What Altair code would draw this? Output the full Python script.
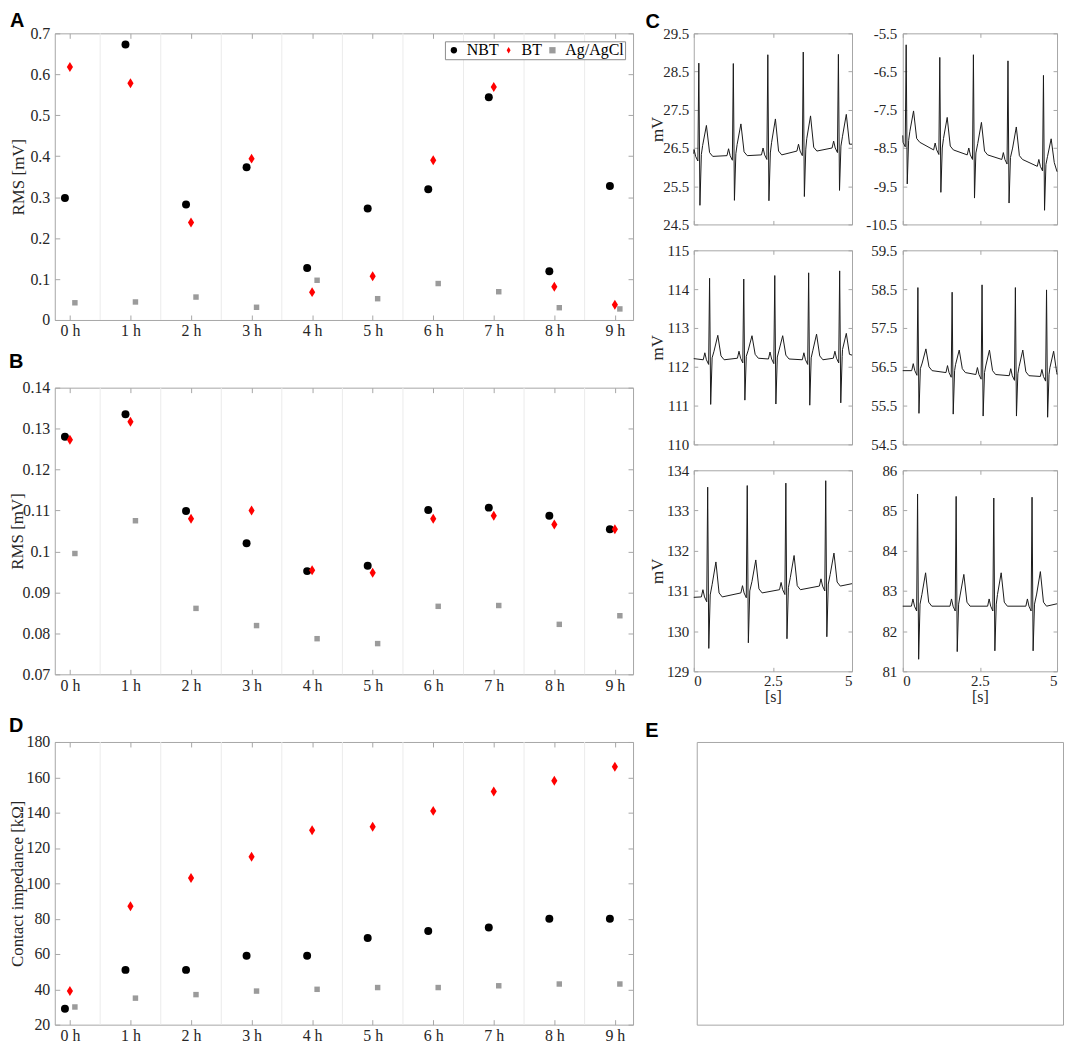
import altair as alt
import pandas as pd

# ---------------- data ----------------
hours = ["0 h", "1 h", "2 h", "3 h", "4 h", "5 h", "6 h", "7 h", "8 h", "9 h"]
series = ["NBT", "BT", "Ag/AgCl"]
grid_pos = [0.5, 1.5, 2.5, 3.5, 4.5, 5.5, 6.5, 7.5, 8.5]

# Panel A: RMS [mV]
a_nbt = [0.298, 0.673, 0.282, 0.373, 0.127, 0.272, 0.319, 0.544, 0.119, 0.327]
a_bt = [0.618, 0.578, 0.238, 0.394, 0.068, 0.107, 0.390, 0.569, 0.081, 0.037]
a_ag = [0.042, 0.044, 0.056, 0.031, 0.097, 0.052, 0.089, 0.069, 0.030, 0.027]
a_yticks = [0, 0.1, 0.2, 0.3, 0.4, 0.5, 0.6, 0.7]

# Panel B: RMS [mV]
b_nbt = [0.1280, 0.1335, 0.1099, 0.1020, 0.0952, 0.0965, 0.1101, 0.1107, 0.1087, 0.1054]
b_bt = [0.1273, 0.1317, 0.1080, 0.1100, 0.0954, 0.0948, 0.1080, 0.1087, 0.1066, 0.1054]
b_ag = [0.0995, 0.1075, 0.0861, 0.0819, 0.0787, 0.0775, 0.0866, 0.0868, 0.0822, 0.0843]
b_yticks = [0.07, 0.08, 0.09, 0.1, 0.11, 0.12, 0.13, 0.14]

# Panel D: contact impedance [kOhm]
d_nbt = [29, 51, 51, 59, 59, 69, 73, 75, 80, 80]
d_bt = [39, 87, 103, 115, 130, 132, 141, 152, 158, 166]
d_ag = [30, 35, 37, 39, 40, 41, 41, 42, 43, 43]
d_yticks = [20, 40, 60, 80, 100, 120, 140, 160, 180]

# Panel C: ECG traces, key values read per beat
ecg = {
    "c11": dict(start=26.35, end=26.60,
                r_t=[0.16, 1.25, 2.34, 3.46, 4.57], r_v=[28.72, 28.71, 28.94, 29.01, 28.95],
                s_v=[25.00, 25.13, 25.12, 25.23, 25.39],
                t_t=[0.40, 1.49, 2.58, 3.69, 4.82], t_v=[27.09, 27.13, 27.26, 27.34, 27.38],
                base=[26.28, 26.30, 26.32, 26.42, 26.50],
                ydom=[24.5, 29.5], yticks=[24.5, 25.5, 26.5, 27.5, 28.5, 29.5]),
    "c12": dict(start=-8.17, end=-9.12,
                r_t=[0.11, 1.20, 2.29, 3.41, 4.56], r_v=[-5.80, -6.13, -6.06, -6.22, -6.60],
                s_v=[-9.44, -9.66, -9.81, -9.94, -10.13],
                t_t=[0.35, 1.44, 2.55, 3.68, 4.81], t_v=[-7.53, -7.70, -7.83, -7.95, -8.26],
                base=[-8.35, -8.55, -8.68, -8.80, -8.98],
                ydom=[-10.5, -5.5], yticks=[-10.5, -9.5, -8.5, -7.5, -6.5, -5.5]),
    "c21": dict(start=112.21, end=112.30,
                r_t=[0.50, 1.58, 2.56, 3.63, 4.61], r_v=[114.28, 114.26, 114.35, 114.42, 114.47],
                s_v=[111.03, 111.14, 111.04, 111.01, 111.07],
                t_t=[0.76, 1.84, 2.81, 3.88, 4.82], t_v=[112.81, 112.80, 112.80, 112.84, 112.86],
                base=[112.18, 112.22, 112.20, 112.18, 112.22],
                ydom=[110, 115], yticks=[110, 111, 112, 113, 114, 115]),
    "c22": dict(start=56.40, end=56.30,
                r_t=[0.49, 1.60, 2.57, 3.65, 4.66], r_v=[58.54, 58.42, 58.61, 58.54, 58.48],
                s_v=[55.30, 55.28, 55.23, 55.23, 55.20],
                t_t=[0.75, 1.83, 2.81, 3.89, 4.89], t_v=[56.96, 56.93, 56.93, 56.93, 56.90],
                base=[56.40, 56.35, 56.30, 56.27, 56.25],
                ydom=[54.5, 59.5], yticks=[54.5, 55.5, 56.5, 57.5, 58.5, 59.5]),
    "c31": dict(start=130.84, end=131.18,
                r_t=[0.44, 1.69, 2.91, 4.17], r_v=[133.58, 133.62, 133.68, 133.74],
                s_v=[129.57, 129.71, 129.81, 129.86],
                t_t=[0.70, 1.96, 3.17, 4.43], t_v=[131.72, 131.77, 131.88, 131.94],
                base=[130.85, 130.95, 131.03, 131.12],
                ydom=[129, 134], yticks=[129, 130, 131, 132, 133, 134]),
    "c32": dict(start=82.62, end=82.68,
                r_t=[0.48, 1.73, 2.95, 4.19], r_v=[85.41, 85.35, 85.31, 85.33],
                s_v=[81.30, 81.49, 81.51, 81.51],
                t_t=[0.74, 1.98, 3.19, 4.46], t_v=[83.45, 83.41, 83.45, 83.48],
                base=[82.62, 82.62, 82.62, 82.62],
                ydom=[81, 86], yticks=[81, 82, 83, 84, 85, 86]),
}
ecg_xticks = [0, 2.5, 5]

# ---------------- style ----------------
SERIF = "Liberation Serif"
SANS = "Liberation Sans"
LBL = "#262626"
BOX = "#a6a6a6"
DIAMOND = "M0,-1L0.62,0L0,1L-0.62,0Z"
SIZES = [64, 100, 30]


def panel_label(text, offset=6, dx=0):
    return alt.TitleParams(text, anchor="start", frame="bounds", font=SANS, fontSize=20,
                           fontWeight="bold", color="black", offset=offset, dx=dx)


def indep(ch):
    return ch.resolve_scale(color="independent", shape="independent")


def scatter_panel(nbt, bt, ag, ydom, yticks, ytitle, label, toff, ext, legend, h):
    n = len(hours)
    idx = list(range(n))
    df = pd.DataFrame({"i": idx * 3, "v": nbt + bt + ag,
                       "s": [series[0]] * n + [series[1]] * n + [series[2]] * n})
    xs = alt.Scale(domain=[-0.25, 9.3], nice=False, zero=False)
    ys = alt.Scale(domain=ydom, nice=False, zero=False)
    lab_expr = "[" + ",".join("'%s'" % h for h in hours) + "][datum.value]"
    x_bot = alt.Axis(orient="bottom", values=idx, labelExpr=lab_expr, title=None,
                     offset=-5, tickSize=5, labelPadding=3)
    x_top = alt.Axis(orient="top", values=idx, labels=False, title=None, offset=-5, tickSize=5)
    y_left = alt.Axis(orient="left", values=yticks, labelExpr="'' + datum.value", title=ytitle,
                      offset=-5, tickSize=5, labelPadding=5, titlePadding=2,
                      minExtent=ext, maxExtent=ext)
    y_right = alt.Axis(orient="right", values=yticks, labels=False, title=None, offset=-5, tickSize=5)

    if legend:
        leg = alt.Legend(orient="top-right", direction="horizontal", columns=3, title=None,
                         offset=8, padding=1, strokeColor="#8c8c8c", fillColor="white",
                         labelFont=SERIF, labelFontSize=16, labelColor="black",
                         columnPadding=2, labelOffset=5, symbolStrokeWidth=0, symbolSize=40)
    else:
        leg = None
    color = alt.Color("s:N", scale=alt.Scale(domain=series, range=["black", "red", "#9b9b9b"]), legend=leg)
    shape = alt.Shape("s:N", scale=alt.Scale(domain=series, range=["circle", DIAMOND, "square"]), legend=leg)

    grid = alt.Chart(pd.DataFrame({"g": grid_pos})).mark_rule(color="#ebebeb", strokeWidth=1).encode(
        x=alt.X("g:Q", scale=xs, axis=x_bot))
    base = alt.Chart(df)
    l_nbt = base.transform_filter(alt.datum.s == series[0]).mark_point(
        filled=True, opacity=1, strokeWidth=0, xOffset=-5, size=SIZES[0]).encode(
        x=alt.X("i:Q", scale=xs, axis=x_top), y=alt.Y("v:Q", scale=ys, axis=y_left),
        color=color, shape=shape)
    l_bt = base.transform_filter(alt.datum.s == series[1]).mark_point(
        filled=True, opacity=1, strokeWidth=0, size=SIZES[1]).encode(
        x=alt.X("i:Q", scale=xs, axis=None), y=alt.Y("v:Q", scale=ys, axis=y_right),
        color=color, shape=shape)
    l_ag = base.transform_filter(alt.datum.s == series[2]).mark_point(
        filled=True, opacity=1, strokeWidth=0, xOffset=5, size=SIZES[2]).encode(
        x=alt.X("i:Q", scale=xs, axis=None), y=alt.Y("v:Q", scale=ys, axis=None),
        color=color, shape=shape)
    return alt.layer(grid, l_nbt, l_bt, l_ag).resolve_axis(x="independent", y="independent").properties(
        width=581, height=h, title=panel_label(label, offset=toff))


def ecg_frame(p):
    ts = [0.0]
    vs = [p["start"]]
    for i in range(len(p["r_t"])):
        b = p["base"][i]
        tr = p["r_t"][i]
        tt = p["t_t"][i]
        tv = p["t_v"][i]
        pts = [(tr - 0.20, b), (tr - 0.15, b + 0.18), (tr - 0.10, b), (tr - 0.03, b - 0.12),
               (tr, p["r_v"][i]), (tr + 0.035, p["s_v"][i]), (tr + 0.08, b + 0.05),
               (tt - 0.12, b + 0.35 * (tv - b)), (tt, tv), (tt + 0.10, b + 0.10), (tt + 0.20, b)]
        for t, v in pts:
            if 0 < t < 5:
                ts.append(t)
                vs.append(v)
    ts.append(5.0)
    vs.append(p["end"])
    return pd.DataFrame({"t": ts, "v": vs})


def ecg_panel(key, w, h, left, bottom):
    p = ecg[key]
    df = ecg_frame(p)
    xs = alt.Scale(domain=[0, 5], nice=False, zero=False)
    ys = alt.Scale(domain=p["ydom"], nice=False, zero=False)
    if bottom:
        xb = alt.Axis(orient="bottom", values=ecg_xticks, labelExpr="'' + datum.value", title="[s]",
                      offset=-4, tickSize=4, labelPadding=2, labelFontSize=15, titlePadding=0,
                      titleFontSize=16)
    else:
        xb = alt.Axis(orient="bottom", values=ecg_xticks, labels=False, title=None, offset=-4, tickSize=4)
    xt = alt.Axis(orient="top", values=ecg_xticks, labels=False, title=None, offset=-4, tickSize=4)
    if left:
        yl = alt.Axis(orient="left", values=p["yticks"], labelExpr="'' + datum.value", title="mV",
                      offset=-4, tickSize=4, labelPadding=5, labelFontSize=15, titlePadding=1,
                      minExtent=30, maxExtent=30)
    else:
        yl = alt.Axis(orient="left", values=p["yticks"], labelExpr="'' + datum.value", title=None,
                      offset=-4, tickSize=4, labelPadding=6, labelFontSize=15)
    yr = alt.Axis(orient="right", values=p["yticks"], labels=False, title=None, offset=-4, tickSize=4)
    line = alt.Chart(df).mark_line(color="#1a1a1a", strokeWidth=1).encode(
        x=alt.X("t:Q", scale=xs, axis=xb), y=alt.Y("v:Q", scale=ys, axis=yl))
    ghost = alt.Chart(df).mark_line(strokeOpacity=0).encode(
        x=alt.X("t:Q", scale=xs, axis=xt), y=alt.Y("v:Q", scale=ys, axis=yr))
    return alt.layer(line, ghost).resolve_axis(x="independent", y="independent").properties(
        width=w, height=h)


A = scatter_panel(a_nbt, a_bt, a_ag, [0, 0.7], a_yticks, "RMS [mV]", "A", -6, 30, True, 288)
B = scatter_panel(b_nbt, b_bt, b_ag, [0.07, 0.14], b_yticks, "RMS [mV]", "B", 8, 31, False, 288)
D = scatter_panel(d_nbt, d_bt, d_ag, [20, 180], d_yticks, "Contact impedance [k\u03a9]", "D", -2, 31, False, 284)

C = alt.concat(
    ecg_panel("c11", 159, 192, True, False), ecg_panel("c12", 155, 192, False, False),
    ecg_panel("c21", 159, 195, True, False), ecg_panel("c22", 155, 195, False, False),
    ecg_panel("c31", 159, 202, True, True), ecg_panel("c32", 155, 202, False, True),
    columns=2, spacing={"row": 9, "column": 10},
).properties(title=panel_label("C", offset=-6, dx=-3))

E = alt.Chart(pd.DataFrame({"k": [0]})).mark_point(opacity=0).encode(
    x=alt.value(0), y=alt.value(0)).properties(width=368, height=284,
                                               title=panel_label("E", offset=-2, dx=-49))

left_ab = indep(alt.vconcat(A, B, spacing=11))
top = indep(alt.hconcat(left_ab, C, spacing=11))
bottom = indep(alt.hconcat(D, E, spacing=10))

chart = indep(alt.vconcat(top, bottom, spacing=10)).properties(padding=0).configure_view(
    stroke=BOX, strokeWidth=1
).configure_axis(
    labelFont=SERIF, labelFontSize=16, labelColor=LBL, titleFont=SERIF, titleFontSize=17,
    titleFontWeight="normal", titleColor=LBL, tickColor=BOX, domain=False, grid=False
)

chart.save("out.html", embed_options={"renderer": "svg", "actions": False})
